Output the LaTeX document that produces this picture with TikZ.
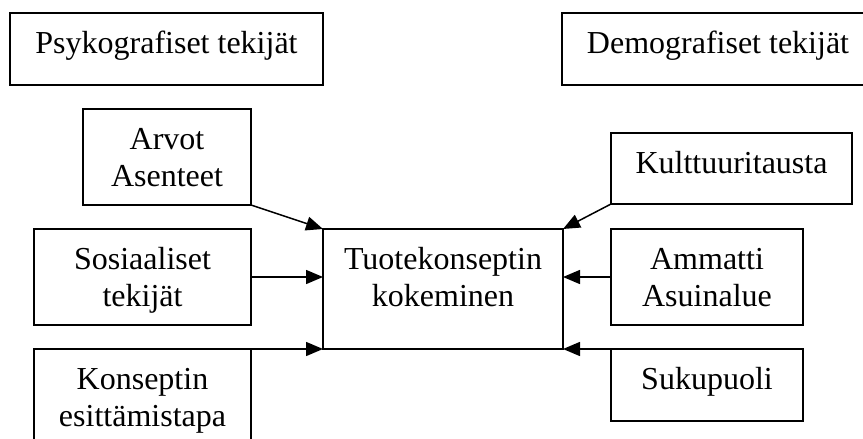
\documentclass[tikz,border=0pt]{standalone}
\usepackage{fontspec}
\setmainfont{Liberation Serif}
\usetikzlibrary{arrows.meta}

\tikzset{
  box/.style={draw, line width=1.5pt, outer sep=0pt, inner sep=0pt},
  lbl/.style={anchor=north, inner sep=0pt, align=center,
              font=\fontsize{32}{37}\selectfont},
  arr/.style={line width=1.5pt, -{Triangle[length=17pt,width=14pt]}}
}
\newcommand{\firstline}{\rule{0pt}{23pt}}

\begin{document}
\begin{tikzpicture}[x=1pt, y=-1pt]
\useasboundingbox (0,0) rectangle (863,439);
\clip (0,0) rectangle (863,439);

% group headings
\node[box, minimum width=313pt, minimum height=72pt] (psyko) at (166.5,49) {};
\node[box, minimum width=312pt, minimum height=72pt] (demo) at (718,49) {};

% left-hand factors
\node[box, minimum width=168pt, minimum height=96pt] (arvot) at (167,157) {};
\node[box, minimum width=217pt, minimum height=96pt] (sos) at (142.5,277) {};
\node[box, minimum width=217pt, minimum height=111pt] (kons) at (142.5,404.5) {};

% central concept
\node[box, minimum width=240pt, minimum height=120pt] (tuote) at (443,289) {};

% right-hand factors
\node[box, minimum width=241pt, minimum height=71pt] (kult) at (731.5,168.5) {};
\node[box, minimum width=192pt, minimum height=96pt] (amm) at (707,277) {};
\node[box, minimum width=192pt, minimum height=72pt] (suku) at (707,385) {};

% texts
\node[lbl] (tpsyko) at ([yshift=-17.5pt]psyko.north) {\firstline Psykografiset tekijät};
\node[lbl] (tdemo) at ([yshift=-17.5pt]demo.north) {\firstline Demografiset tekijät};
\node[lbl] (tarvot) at ([yshift=-17.5pt]arvot.north) {\firstline Arvot\\Asenteet};
\node[lbl] (tsos) at ([yshift=-17.5pt]sos.north) {\firstline Sosiaaliset\\tekijät};
\node[lbl] (tkons) at ([yshift=-17.5pt]kons.north) {\firstline Konseptin\\esittämistapa};
\node[lbl] (ttuote) at ([yshift=-17.5pt]tuote.north) {\firstline Tuotekonseptin\\kokeminen};
\node[lbl] (tkult) at ([yshift=-17.5pt]kult.north) {\firstline Kulttuuritausta};
\node[lbl] (tamm) at ([yshift=-17.5pt]amm.north) {\firstline Ammatti\\Asuinalue};
\node[lbl] (tsuku) at ([yshift=-17.5pt]suku.north) {\firstline Sukupuoli};

% influences on the central concept
\draw[arr] (arvot.south east) -- (tuote.north west);
\draw[arr] (sos.east) -- (sos.east -| tuote.west);
\draw[arr] (kons.north east) -- (tuote.south west);
\draw[arr] (kult.south west) -- (tuote.north east);
\draw[arr] (amm.west) -- (amm.west -| tuote.east);
\draw[arr] (suku.north west) -- (tuote.south east);
\end{tikzpicture}
\end{document}
